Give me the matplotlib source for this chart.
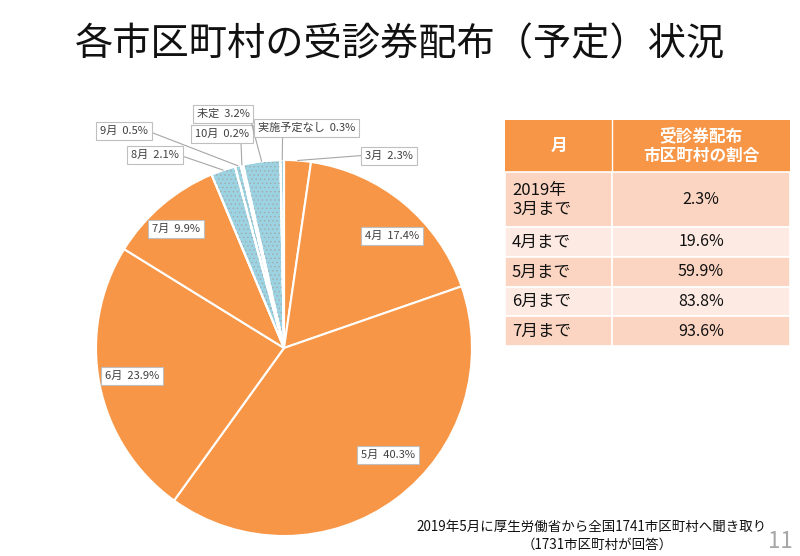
import numpy as np
import matplotlib.pyplot as plt
from matplotlib.patches import Wedge, Rectangle

plt.rcParams['font.family'] = ['Noto Sans CJK JP', 'DejaVu Sans']
plt.rcParams['hatch.linewidth'] = 0.5

# pie data (clockwise from 12 o'clock)
months = ['3月', '4月', '5月', '6月', '7月', '8月', '9月', '10月', '未定', '実施予定なし']
shares = [2.3, 17.4, 40.3, 23.9, 9.9, 2.1, 0.5, 0.2, 3.2, 0.3]
planned = [True, True, True, True, True, False, False, False, False, False]

# table data
tbl_months = ['2019年\n3月まで', '4月まで', '5月まで', '6月まで', '7月まで']
tbl_cum = ['2.3%', '19.6%', '59.9%', '83.8%', '93.6%']

ORANGE = '#F79646'
BLUE = '#9CD3E2'

fig = plt.figure(figsize=(8, 5.56), dpi=100)

fig.text(0.5, 1 - 45 / 556, '各市区町村の受診券配布（予定）状況', ha='center', va='center',
         fontsize=27.5, color='#111111')

# ---- pie ----
ax = fig.add_axes([96 / 800, 20 / 556, 376 / 800, 376 / 556])
colors = [ORANGE if p else BLUE for p in planned]
wedges, _ = ax.pie(shares, colors=colors, startangle=90, counterclock=False, radius=1,
                   wedgeprops=dict(edgecolor='white', linewidth=1.5))
for w, p in zip(wedges, planned):
    if not p:
        ax.add_patch(Wedge(w.center, w.r, w.theta1, w.theta2, facecolor='none',
                           edgecolor='#a3a9ab', linewidth=0, hatch='....'))
        ax.add_patch(Wedge(w.center, w.r, w.theta1, w.theta2, facecolor='none',
                           edgecolor='white', linewidth=1.5))
ax.set_xlim(-1, 1)
ax.set_ylim(-1, 1)
ax.set_aspect('equal')
ax.axis('off')

# label box positions (axes data units, radius = 1) and leader start on the box
label_pos = [(0.56, 1.02), (0.574, 0.596), (0.553, -0.569), (-0.809, -0.149), (-0.574, 0.633),
             (-0.686, 1.027), (-0.851, 1.154), (-0.33, 1.138), (-0.324, 1.245), (0.122, 1.17)]
leader_from = [(0, 0.6), None, None, None, None,
               (1, 0.5), (1, 0.5), (0.85, 0), (1, 0.3), (0.25, 0)]

for w, m, s, pos, rel in zip(wedges, months, shares, label_pos, leader_from):
    txt = f'{m}  {s:.1f}%'
    box = dict(boxstyle='square,pad=0.35', facecolor='white', edgecolor='#bfbfbf', linewidth=0.8)
    if rel is not None:
        mid = np.deg2rad((w.theta1 + w.theta2) / 2)
        ax.annotate(txt, xy=(np.cos(mid), np.sin(mid)), xytext=pos, ha='center', va='center',
                    fontsize=8, color='#404040', bbox=box, annotation_clip=False,
                    arrowprops=dict(arrowstyle='-', color='#a6a6a6', lw=0.8, relpos=rel,
                                    shrinkA=0, shrinkB=0))
    else:
        ax.text(pos[0], pos[1], txt, ha='center', va='center', fontsize=8,
                color='#404040', bbox=box)

# ---- table ----
tx = fig.add_axes([505 / 800, (556 - 346) / 556, 285 / 800, 226 / 556])
tx.set_xlim(505, 790)
tx.set_ylim(346, 120)
tx.axis('off')
col_x = [505, 612, 790]
row_y = [120, 172, 227, 257, 287, 316, 346]
tx.add_patch(Rectangle((col_x[0], row_y[0]), col_x[2] - col_x[0], row_y[1] - row_y[0],
                       facecolor=ORANGE, edgecolor='none'))
tx.plot([col_x[1], col_x[1]], [row_y[0], row_y[1]], color='white', lw=1)
tx.text((col_x[0] + col_x[1]) / 2, (row_y[0] + row_y[1]) / 2, '月', ha='center', va='center',
        color='white', fontsize=12, fontweight='bold')
tx.text((col_x[1] + col_x[2]) / 2, (row_y[0] + row_y[1]) / 2, '受診券配布\n市区町村の割合',
        ha='center', va='center', color='white', fontsize=12, fontweight='bold', linespacing=1.1)
for i, (m, c) in enumerate(zip(tbl_months, tbl_cum)):
    y0, y1 = row_y[i + 1], row_y[i + 2]
    fc = '#FBD5C2' if i % 2 == 0 else '#FDEBE3'
    for j in range(2):
        tx.add_patch(Rectangle((col_x[j], y0), col_x[j + 1] - col_x[j], y1 - y0,
                               facecolor=fc, edgecolor='white', linewidth=1.2))
    tx.text(512, (y0 + y1) / 2, m, ha='left', va='center', fontsize=12, color='#111111',
            linespacing=1.15)
    tx.text((col_x[1] + col_x[2]) / 2, (y0 + y1) / 2, c, ha='center', va='center',
            fontsize=11.5, color='#111111')

# ---- footnote ----
fig.text(592 / 800, 1 - 527 / 556, '2019年5月に厚生労働省から全国1741市区町村へ聞き取り',
         ha='center', va='center', fontsize=9.7, color='#111111')
fig.text(597 / 800, 1 - 545 / 556, '（1731市区町村が回答）', ha='center', va='center',
         fontsize=9.7, color='#111111')
fig.text(780 / 800, 1 - 541 / 556, '11', ha='center', va='center', fontsize=16, color='#a6a6a6')

fig.savefig('out.png', dpi=100)
